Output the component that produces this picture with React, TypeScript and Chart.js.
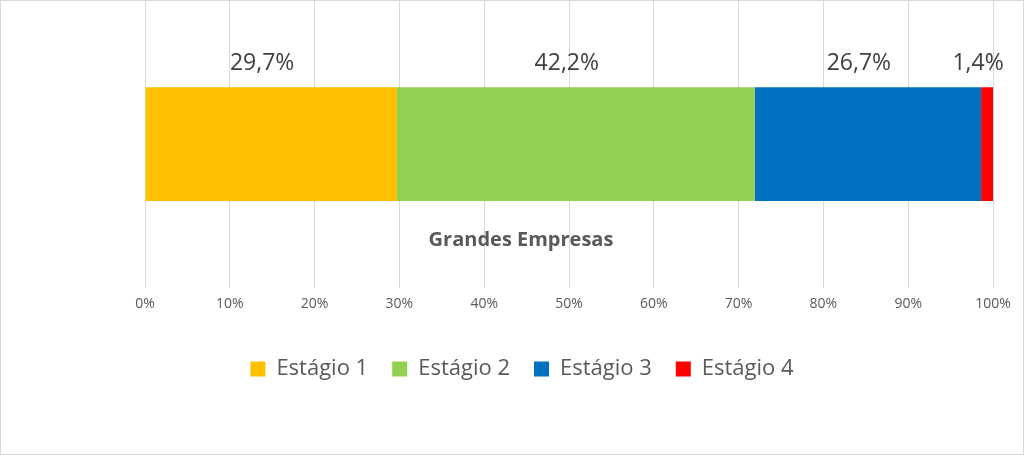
import React, { useEffect, useRef } from "react";
import { Chart, registerables } from "chart.js";

Chart.register(...registerables);

const categories = ["Grandes Empresas"];
const seriesNames = ["Estágio 1", "Estágio 2", "Estágio 3", "Estágio 4"];
const seriesValues = [29.7, 42.2, 26.7, 1.4];
const seriesColors = ["#FFC000", "#92D050", "#0070C0", "#FF0000"];
const FONT = "'Open Sans', 'Noto Sans', sans-serif";

const labelsPlugin = {
  id: "customLabels",
  afterDatasetsDraw(chart: any) {
    const ctx = chart.ctx;
    ctx.save();
    chart.data.datasets.forEach((ds: any, i: number) => {
      const meta = chart.getDatasetMeta(i);
      meta.data.forEach((bar: any, j: number) => {
        const v = ds.data[j];
        const x = (bar.x + bar.base) / 2 - 9;
        const y = bar.y - bar.height / 2 - 24;
        ctx.font = `23px ${FONT}`;
        ctx.fillStyle = "#404040";
        ctx.textAlign = "center";
        ctx.textBaseline = "middle";
        ctx.fillText(v.toFixed(1).replace(".", ",") + "%", x, y);
      });
    });
    const meta0 = chart.getDatasetMeta(0);
    const b = meta0.data[0];
    const area = chart.chartArea;
    ctx.font = `bold 20px ${FONT}`;
    ctx.fillStyle = "#595959";
    ctx.textAlign = "center";
    ctx.textBaseline = "middle";
    ctx.fillText(categories[0], (area.left + area.right) / 2 - 48, b.y + b.height / 2 + 39);
    ctx.strokeStyle = "#d9d9d9";
    ctx.lineWidth = 1;
    ctx.strokeRect(0.5, 0.5, chart.width - 1, chart.height - 1);
    ctx.restore();
  },
};

export default function App() {
  const ref = useRef<HTMLCanvasElement>(null);
  useEffect(() => {
    document.body.style.margin = "0";
    const chart = new Chart(ref.current!, {
      type: "bar",
      data: {
        labels: categories,
        datasets: seriesNames.map((name, i) => ({
          label: name,
          data: [seriesValues[i]],
          backgroundColor: seriesColors[i],
          borderWidth: 0,
          barPercentage: 1,
          categoryPercentage: 0.394,
        })),
      },
      options: {
        indexAxis: "y",
        responsive: false,
        animation: false,
        layout: { padding: { left: 51, right: 31, top: 0, bottom: 65 } },
        plugins: {
          legend: {
            position: "bottom",
            labels: {
              font: { family: FONT, size: 22 },
              color: "#595959",
              boxWidth: 15,
              boxHeight: 15,
              padding: 24,
            },
          },
          tooltip: { enabled: false },
        },
        scales: {
          x: {
            stacked: true,
            min: 0,
            max: 100,
            ticks: {
              stepSize: 10,
              callback: (v: any) => `${v}%`,
              font: { family: FONT, size: 14 },
              color: "#595959",
              padding: 7,
              maxRotation: 0,
            },
            grid: { color: "#d9d9d9", drawTicks: false },
            border: { display: false },
            afterFit: (s: any) => {
              s.height += 15;
            },
          },
          y: {
            stacked: true,
            display: true,
            ticks: { display: false },
            grid: { display: false, drawTicks: false },
            border: { display: false },
            afterFit: (s: any) => {
              s.width = 94;
            },
          },
        },
      },
      plugins: [labelsPlugin],
    });
    return () => chart.destroy();
  }, []);
  return (
    <div style={{ width: 1024, height: 455 }}>
      <canvas ref={ref} width={1024} height={455} />
    </div>
  );
}
